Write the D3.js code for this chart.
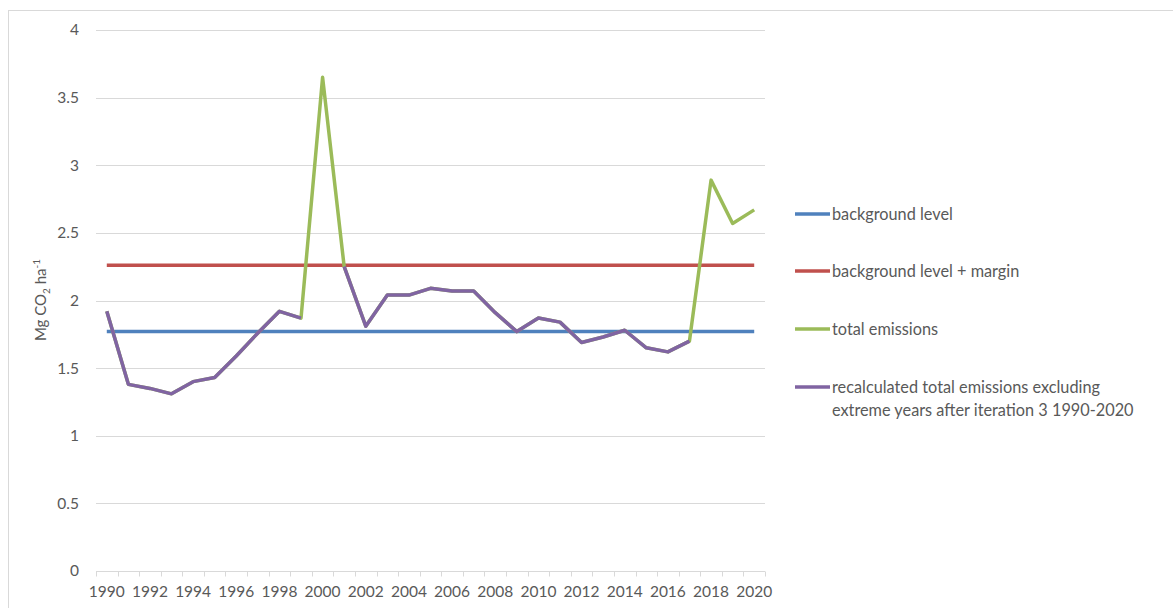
<!DOCTYPE html>
<html>
<head>
<meta charset="utf-8">
<script src="https://cdn.jsdelivr.net/npm/d3@7"></script>
<style>
  body { margin: 0; background: white; }
  svg { font-family: Lato, "Open Sans", sans-serif; }
</style>
</head>
<body>
<svg id="chart" width="1173" height="608"></svg>
<script>
var years = d3.range(1990, 2021)
var yTicks = [0, 0.5, 1, 1.5, 2, 2.5, 3, 3.5, 4]

// flat lines
var background = years.map(function() { return 1.77 })
var backgroundMargin = years.map(function() { return 2.26 })

// total emissions, all years
var total = [1.92, 1.38, 1.35, 1.31, 1.40, 1.43, 1.59, 1.76, 1.92, 1.87,
             3.65, 2.25, 1.81, 2.04, 2.04, 2.09, 2.07, 2.07, 1.91, 1.77,
             1.87, 1.84, 1.69, 1.73, 1.78, 1.65, 1.62, 1.70, 2.89, 2.57, 2.67]

// recalculated, extreme years left out (null)
var recalculated = [1.92, 1.38, 1.35, 1.31, 1.40, 1.43, 1.59, 1.76, 1.92, 1.87,
                    null, 2.25, 1.81, 2.04, 2.04, 2.09, 2.07, 2.07, 1.91, 1.77,
                    1.87, 1.84, 1.69, 1.73, 1.78, 1.65, 1.62, 1.70, null, null, null]

var seriesNames = ['background level', 'background level + margin', 'total emissions',
                   'recalculated total emissions excluding|extreme years after iteration 3 1990-2020']
var seriesColors = ['#4f81bd', '#c0504d', '#9bbb59', '#8064a2']
var seriesData = [background, backgroundMargin, total, recalculated]

var svg = d3.select('#chart')

// chart border
svg.append('rect')
  .attr('x', 8.5).attr('y', 10.5)
  .attr('width', 1200).attr('height', 700)
  .style('fill', 'white')
  .style('stroke', '#d9d9d9')

var plotLeft = 96, plotRight = 765, plotTop = 30, plotBottom = 571

var x = d3.scaleBand().domain(years).range([plotLeft, plotRight])
var y = d3.scaleLinear().domain([0, 4]).range([plotBottom, plotTop])

// gridlines
svg.append('g').selectAll('line')
  .data(yTicks.filter(function(d) { return d > 0 }))
  .enter().append('line')
  .attr('x1', plotLeft).attr('x2', plotRight)
  .attr('y1', function(d) { return Math.round(y(d)) + 0.5 })
  .attr('y2', function(d) { return Math.round(y(d)) + 0.5 })
  .style('stroke', '#d9d9d9')

// y axis labels
var yAxis = svg.append('g')
  .attr('transform', 'translate(' + (plotLeft - 17) + ',0)')
  .call(d3.axisLeft(y).tickValues(yTicks).tickSize(0).tickFormat(d3.format('')))
yAxis.select('.domain').remove()
yAxis.selectAll('text')
  .attr('x', 0)
  .style('font-size', '15.5px')
  .style('fill', '#595959')
  .style('font-family', 'Lato')

// x axis
var xAxisG = svg.append('g').attr('transform', 'translate(0,' + (plotBottom + 0.5) + ')')
xAxisG.append('line')
  .attr('x1', plotLeft).attr('x2', plotRight)
  .style('stroke', '#d9d9d9')
xAxisG.selectAll('.tick-mark')
  .data(years.concat([2021]))
  .enter().append('line')
  .attr('class', 'tick-mark')
  .attr('x1', function(d, i) { return Math.round(plotLeft + i * x.step()) + 0.5 })
  .attr('x2', function(d, i) { return Math.round(plotLeft + i * x.step()) + 0.5 })
  .attr('y1', 0).attr('y2', 5)
  .style('stroke', '#d9d9d9')
xAxisG.selectAll('.tick-label')
  .data(years.filter(function(d) { return d % 2 == 0 }))
  .enter().append('text')
  .attr('class', 'tick-label')
  .attr('x', function(d) { return x(d) + x.bandwidth() / 2 })
  .attr('y', 25)
  .style('text-anchor', 'middle')
  .style('font-size', '15.5px')
  .style('fill', '#595959')
  .text(function(d) { return d })

// y axis title
var yTitle = svg.append('text')
  .attr('transform', 'translate(46,300) rotate(-90)')
  .style('text-anchor', 'middle')
  .style('font-size', '15px')
  .style('fill', '#595959')
yTitle.append('tspan').text('Mg CO')
yTitle.append('tspan').attr('dy', 4).style('font-size', '10px').text('2')
yTitle.append('tspan').attr('dy', -4).text(' ha')
yTitle.append('tspan').attr('dy', -6).style('font-size', '10px').text('-1')

// lines
var line = d3.line()
  .defined(function(d) { return d != null })
  .x(function(d, i) { return x(years[i]) + x.bandwidth() / 2 })
  .y(function(d) { return y(d) })

seriesData.forEach(function(s, k) {
  svg.append('path')
    .attr('d', line(s))
    .style('fill', 'none')
    .style('stroke', seriesColors[k])
    .style('stroke-width', 3.5)
    .style('stroke-linejoin', 'round')
})

// legend
var legendY = [214, 271, 329, 387]
seriesNames.forEach(function(name, k) {
  var g = svg.append('g').attr('transform', 'translate(0,' + legendY[k] + ')')
  g.append('line')
    .attr('x1', 795).attr('x2', 830)
    .style('stroke', seriesColors[k])
    .style('stroke-width', 3.5)
  var parts = name.split('|')
  parts.forEach(function(p, j) {
    g.append('text')
      .attr('x', 832)
      .attr('y', 6 + j * 23)
      .style('font-size', '16.3px')
      .style('fill', '#595959')
      .text(p)
  })
})
</script>
</body>
</html>
